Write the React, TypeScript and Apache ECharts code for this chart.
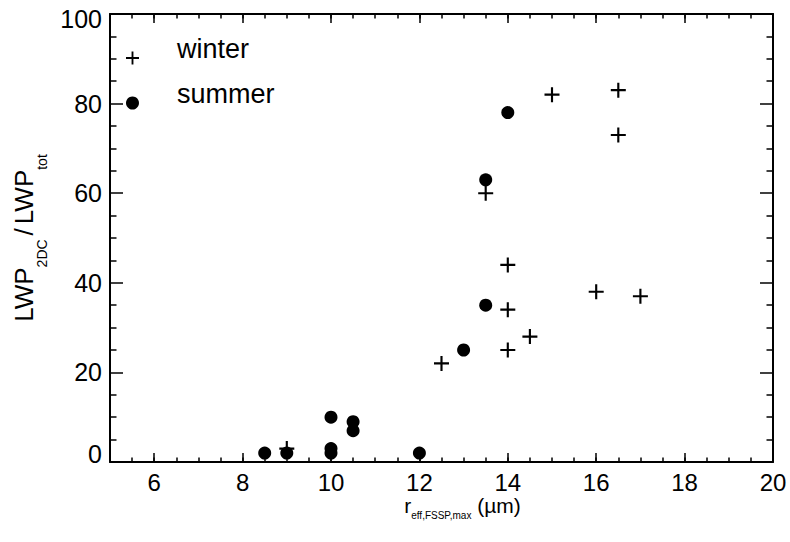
import React, { useEffect, useRef } from "react";
import * as echarts from "echarts";

// Effective radius (µm) and LWP fraction (%) per flight
const winterR = [15, 16.5, 16.5, 13.5, 14, 16, 17, 14, 14.5, 14, 12.5, 9];
const winterLWP = [82, 83, 73, 60, 44, 38, 37, 34, 28, 25, 22, 3];
const summerR = [14, 13.5, 13.5, 13, 8.5, 9, 10, 10, 10, 10.5, 10.5, 12];
const summerLWP = [78, 63, 35, 25, 2, 2, 10, 3, 2, 9, 7, 2];

const xMajorTicks = [6, 8, 10, 12, 14, 16, 18, 20];
const seriesNames = ["winter", "summer"];

const FONT = "Liberation Sans, Arial, Helvetica, sans-serif";
const PLUS = "path://M6,0H8V6H14V8H8V14H6V8H0V6H6Z";

const pairs = (xs: number[], ys: number[]) => xs.map((x, i) => [x, ys[i]]);

export default function App() {
  const ref = useRef<HTMLDivElement>(null);

  useEffect(() => {
    if (!ref.current) return;
    const chart = echarts.init(ref.current, null, { renderer: "svg" });

    const line = { show: true, lineStyle: { color: "#000", width: 2 } };
    const xBase = {
      type: "value" as const,
      min: 5,
      max: 20,
      interval: 0.5,
      splitLine: { show: false },
      axisLine: line,
    };
    const majorX = (position: "top" | "bottom", labels: boolean) => ({
      ...xBase,
      position,
      axisTick: {
        inside: true,
        length: 9,
        customValues: xMajorTicks,
        lineStyle: { color: "#000", width: 1.5 },
      },
      axisLabel: labels
        ? {
            customValues: xMajorTicks,
            fontFamily: FONT,
            fontSize: 24,
            lineHeight: 22,
            color: "#000",
            margin: 9,
          }
        : { show: false },
    });
    const minorX = (position: "top" | "bottom") => ({
      ...xBase,
      position,
      axisLine: { show: false },
      axisTick: { inside: true, length: 4.5, lineStyle: { color: "#000", width: 1.5 } },
      axisLabel: { show: false },
    });
    const yAxisOf = (position: "left" | "right", labels: boolean) => ({
      type: "value" as const,
      position,
      min: 0,
      max: 100,
      interval: 20,
      splitLine: { show: false },
      axisLine: line,
      axisTick: { inside: true, length: 13, lineStyle: { color: "#000", width: 1.5 } },
      minorTick: {
        show: true,
        splitNumber: 4,
        length: 6.5,
        lineStyle: { color: "#000", width: 1.5 },
      },
      axisLabel: labels
        ? {
            fontFamily: FONT,
            fontSize: 25,
            color: "#000",
            margin: 8,
            formatter: (v: number) =>
              v === 0 ? "{lo|0}" : v === 100 ? "{hi|100}" : String(v),
            rich: {
              lo: { fontFamily: FONT, fontSize: 25, color: "#000", padding: [0, 0, 16, 0] },
              hi: { fontFamily: FONT, fontSize: 25, color: "#000", padding: [10, 0, 0, 0] },
            },
          }
        : { show: false },
    });

    chart.setOption({
      animation: false,
      backgroundColor: "#fff",
      grid: { left: 110, right: 17, top: 14, bottom: 80, outerBoundsMode: "none" },
      legend: {
        orient: "vertical",
        left: 126,
        top: 35,
        padding: 0,
        itemGap: -1,
        itemWidth: 13,
        itemHeight: 13,
        selectedMode: false,
        data: [
          { name: seriesNames[0], icon: PLUS },
          { name: seriesNames[1], icon: "circle" },
        ],
        formatter: (name: string) => `{t|${name}}`,
        textStyle: {
          fontFamily: FONT,
          fontSize: 27,
          lineHeight: 27,
          color: "#000",
          padding: [0, 0, 0, 33],
          rich: {
            t: {
              fontFamily: FONT,
              fontSize: 27,
              lineHeight: 27,
              color: "#000",
              padding: [0, 0, 19, 0],
            },
          },
        },
      },
      xAxis: [
        {
          ...majorX("bottom", true),
          name: "{m|r}{s|eff,FSSP,max}{m| (µm)}",
          nameLocation: "middle",
          nameGap: 33,
          nameMoveOverlap: false,
          nameTextStyle: {
            padding: [0, 0, 0, 42],
            rich: {
              m: {
                fontFamily: FONT,
                fontSize: 21,
                lineHeight: 20,
                verticalAlign: "top",
                color: "#000",
              },
              s: {
                fontFamily: FONT,
                fontSize: 10,
                lineHeight: 10,
                verticalAlign: "top",
                color: "#000",
                padding: [15, 0, 0, 0],
              },
            },
          },
        },
        minorX("bottom"),
        majorX("top", false),
        minorX("top"),
      ],
      yAxis: [
        {
          ...yAxisOf("left", true),
          name: "{m|LWP}{s|2DC}{sl|/}{m|LWP}{s|tot}",
          nameLocation: "middle",
          nameGap: 67,
          nameTextStyle: {
            rich: {
              m: { fontFamily: FONT, fontSize: 26, lineHeight: 30, color: "#000" },
              sl: {
                fontFamily: FONT,
                fontSize: 26,
                lineHeight: 30,
                color: "#000",
                padding: [0, 4, 0, 4],
              },
              s: {
                fontFamily: FONT,
                fontSize: 14,
                lineHeight: 14,
                color: "#000",
                padding: [36, 0, 0, 0],
              },
            },
          },
        },
        yAxisOf("right", false),
      ],
      series: [
        {
          name: seriesNames[0],
          type: "scatter",
          symbol: PLUS,
          symbolSize: 15,
          itemStyle: { color: "#000", opacity: 1 },
          data: pairs(winterR, winterLWP),
        },
        {
          name: seriesNames[1],
          type: "scatter",
          symbol: "circle",
          symbolSize: 13,
          itemStyle: { color: "#000", opacity: 1 },
          data: pairs(summerR, summerLWP),
        },
      ],
    });

    return () => chart.dispose();
  }, []);

  return (
    <div
      ref={ref}
      style={{ position: "fixed", left: 0, top: 0, width: 790, height: 542, background: "#fff" }}
    />
  );
}
